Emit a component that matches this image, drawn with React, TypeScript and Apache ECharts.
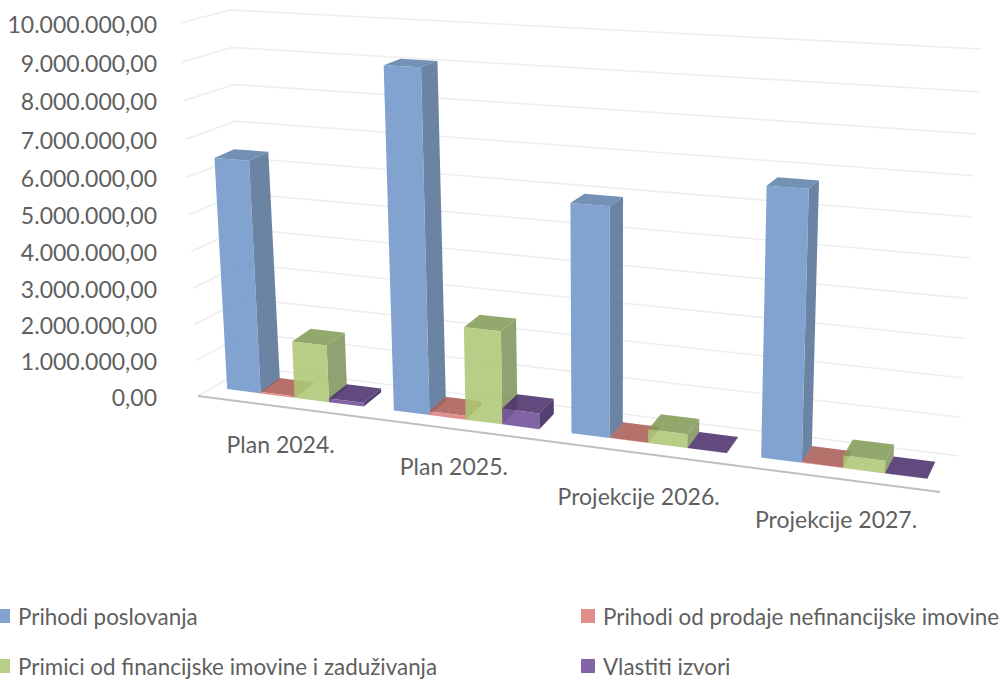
import React, { useEffect, useRef } from "react";
import * as echarts from "echarts";

const categories = ["Plan 2024.", "Plan 2025.", "Projekcije 2026.", "Projekcije 2027."];
const prihodiPoslovanja = [6380000, 9070000, 5930000, 6720000];
const prihodiProdaje = [42000, 105000, 10000, 10000];
const primiciFinancijske = [1570000, 2480000, 358000, 316000];
const vlastitiIzvori = [105000, 420000, 5000, 5000];
const seriesNames = [
  "Prihodi poslovanja",
  "Prihodi od prodaje nefinancijske imovine",
  "Primici od financijske imovine i zaduživanja",
  "Vlastiti izvori",
];
const seriesValues = [prihodiPoslovanja, prihodiProdaje, primiciFinancijske, vlastitiIzvori];
const gridTicks = [0, 1e6, 2e6, 3e6, 4e6, 5e6, 6e6, 7e6, 8e6, 9e6, 1e7];

const faceColors = [
  { front: "#82a3d0", side: "#6b84a3", top: "#7390b5" },
  { front: "#e08f8c", side: "#a86560", top: "#b5706b" },
  { front: "#b8cd85", side: "#91a272", top: "#93a86d" },
  { front: "#8263a5", side: "#523f72", top: "#624a7e" },
];
const FONT = "Lato";
const TEXT = "#5f5f5f";
const FS_AXIS = 23;
const FS_LEGEND = 22.4;

// Corners of the drawn box: [front|back][left|right][floor|top]
const FL0 = [198, 396], FR0 = [940, 492], BL0 = [248, 367], BR0 = [959, 456];
const FL1 = [180, 23], FR1 = [961, 57], BL1 = [230, 10], BR1 = [981, 49];
const K = 0.14, KH = 0.055, BAR_FRONT = 0.3, BAR_BACK = 0.77, HALF_GAP = 0.088, BAR_W = 0.206;
const BAR_DEPTH_X = 0.85, BAR_LEAN = 3;
const labelDrop = [37, 37, 43, 40];

const mix = (a: number[], b: number[], t: number) => [a[0] + (b[0] - a[0]) * t, a[1] + (b[1] - a[1]) * t];
const project = (u: number, v: number, h: number) => {
  const s = u / (1 + K - K * u);
  const g = h / (1 + KH - KH * h);
  const floor = mix(mix(FL0, FR0, s), mix(BL0, BR0, s), v);
  const top = mix(mix(FL1, FR1, s), mix(BL1, BR1, s), v);
  return mix(floor, top, g);
};
const projectBar = (u: number, v: number, h: number) => {
  const p = project(u, v, h);
  const f = project(u, BAR_FRONT, h);
  return [f[0] + (p[0] - f[0]) * BAR_DEPTH_X - BAR_LEAN * h, p[1]];
};

const hexAlpha = (hex: string, a: number) => {
  const c = [1, 3, 5].map((i) => parseInt(hex.slice(i, i + 2), 16));
  const o = c.map((x) => Math.max(0, Math.round((x - 255 * (1 - a)) / a)));
  return `rgba(${o[0]},${o[1]},${o[2]},${a})`;
};

const barSeries = (idx: number) => ({
  type: "custom",
  name: seriesNames[idx],
  coordinateSystem: "cartesian2d",
  encode: { x: 0, y: 1 },
  itemStyle: { color: faceColors[idx].front },
  data: seriesValues[idx].map((v, i) => [i, v]),
  renderItem: (params: any, api: any) => {
    const cs = params.coordSys;
    const c = api.coord([api.value(0), api.value(1)]);
    const band = api.size([1, 0])[0];
    const x0 = c[0] - band / 2 + band * (HALF_GAP + idx * BAR_W);
    const u0 = (x0 - cs.x) / cs.width;
    const u1 = u0 + (band * BAR_W) / cs.width;
    const h = (cs.y + cs.height - c[1]) / cs.height;
    const f = faceColors[idx];
    const P = projectBar;
    const poly = (points: number[][], fill: string) => ({
      type: "polygon",
      shape: { points },
      style: { fill: hexAlpha(fill, 0.88) },
    });
    return {
      type: "group",
      children: [
        poly([P(u1, BAR_FRONT, 0), P(u1, BAR_BACK, 0), P(u1, BAR_BACK, h), P(u1, BAR_FRONT, h)], f.side),
        poly([P(u0, BAR_FRONT, h), P(u1, BAR_FRONT, h), P(u1, BAR_BACK, h), P(u0, BAR_BACK, h)], f.top),
        poly([P(u0, BAR_FRONT, 0), P(u1, BAR_FRONT, 0), P(u1, BAR_FRONT, h), P(u0, BAR_FRONT, h)], f.front),
      ],
    };
  },
});

const legendAt = (name: string, left: number, top: number) => ({
  data: [name],
  left,
  top,
  itemWidth: 14,
  itemHeight: 14,
  icon: "rect",
  selectedMode: false,
  padding: 0,
  textStyle: { fontFamily: FONT, fontSize: FS_LEGEND, color: TEXT, padding: [0, 0, 0, 3] },
});

const tickText = (v: number) =>
  v.toFixed(2).replace(".", ",").replace(/\B(?=(\d{3})+(?!\d))/g, ".");

export default function App() {
  const ref = useRef<HTMLDivElement>(null);
  useEffect(() => {
    document.body.style.margin = "0";
    const chart = echarts.init(ref.current!, undefined, { renderer: "svg" });
    chart.setOption({
      animation: false,
      backgroundColor: "#ffffff",
      grid: { left: 163, right: 5, top: 25, bottom: 284, containLabel: false },
      xAxis: { type: "category", data: categories, show: false },
      yAxis: {
        type: "value",
        min: 0,
        max: 10000000,
        interval: 1000000,
        axisLine: { show: false },
        axisTick: { show: false },
        splitLine: { show: false },
        axisLabel: { show: false },
      },
      legend: [
        legendAt(seriesNames[0], -4, 605),
        legendAt(seriesNames[1], 581, 605),
        legendAt(seriesNames[2], -4, 655),
        legendAt(seriesNames[3], 581, 655),
      ],
      series: [
        {
          type: "custom",
          coordinateSystem: "cartesian2d",
          encode: { x: 0, y: 1 },
          data: gridTicks.map((t) => [0, t]),
          renderItem: (params: any, api: any) => {
            const cs = params.coordSys;
            const v = api.value(1);
            const h = (cs.y + cs.height - api.coord([0, v])[1]) / cs.height;
            const p = project(0, 0, h);
            return {
              type: "group",
              children: [
                {
                  type: "polyline",
                  shape: { points: [p, project(0, 1, h), project(1, 1, h)] },
                  style: { stroke: "#eeeeee", lineWidth: 1.6, fill: "none" },
                },
                {
                  type: "text",
                  style: {
                    text: tickText(v),
                    x: 157,
                    y: p[1] + 0.5,
                    fill: TEXT,
                    font: `${FS_AXIS}px ${FONT}`,
                    align: "right",
                    verticalAlign: "middle",
                  },
                },
              ],
            };
          },
        },
        {
          type: "custom",
          coordinateSystem: "cartesian2d",
          encode: { x: 0, y: 1 },
          data: [[0, 0]],
          renderItem: () => ({
            type: "line",
            shape: { x1: project(0, 0, 0)[0], y1: project(0, 0, 0)[1], x2: project(1, 0, 0)[0], y2: project(1, 0, 0)[1] },
            style: { stroke: "#bfbfbf", lineWidth: 2 },
          }),
        },
        barSeries(0),
        barSeries(1),
        barSeries(2),
        barSeries(3),
        {
          type: "custom",
          coordinateSystem: "cartesian2d",
          encode: { x: 0, y: 1 },
          data: categories.map((_, i) => [i, 0]),
          renderItem: (params: any, api: any) => {
            const cs = params.coordSys;
            const i = api.value(0);
            const c = api.coord([i, 0]);
            const p = project((c[0] - cs.x) / cs.width, 0, 0);
            return {
              type: "text",
              style: {
                text: categories[i],
                x: p[0],
                y: p[1] + labelDrop[i],
                fill: TEXT,
                font: `${FS_AXIS}px ${FONT}`,
                align: "center",
                verticalAlign: "middle",
              },
            };
          },
        },
      ],
    });
    return () => chart.dispose();
  }, []);
  return <div ref={ref} style={{ position: "absolute", left: 0, top: 0, width: 1005, height: 680 }} />;
}
